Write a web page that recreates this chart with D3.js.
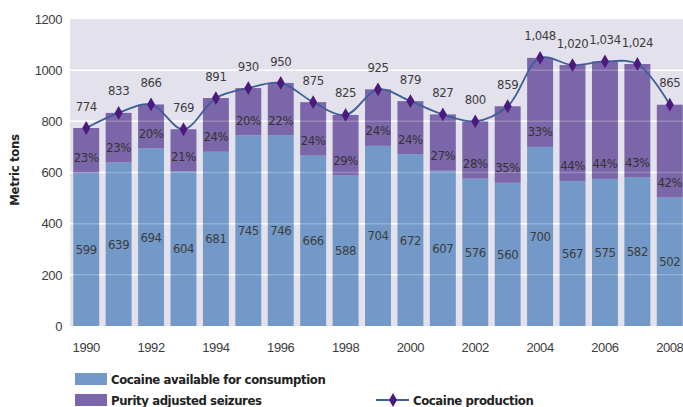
<!DOCTYPE html>
<html><head><meta charset="utf-8">
<script src="https://cdn.jsdelivr.net/npm/d3@7"></script>
<style>
html,body{margin:0;padding:0;background:#fff;}
svg{display:block;font-family:"DejaVu Sans Condensed","Liberation Sans Narrow","Open Sans",sans-serif;}
</style></head>
<body><svg id="c" width="683" height="407"></svg>
<script>
const years = [1990,1991,1992,1993,1994,1995,1996,1997,1998,1999,2000,2001,2002,2003,2004,2005,2006,2007,2008];
const consumption = [599,639,694,604,681,745,746,666,588,704,672,607,576,560,700,567,575,582,502];
const production = [774,833,866,769,891,930,950,875,825,925,879,827,800,859,1048,1020,1034,1024,865];
const seizurePct = [23,23,20,21,24,20,22,24,29,24,24,27,28,35,33,44,44,43,42];
const yTicks = [0,200,400,600,800,1000,1200];
const xTickYears = [1990,1992,1994,1996,1998,2000,2002,2004,2006,2008];
const seriesNames = ["Cocaine available for consumption","Purity adjusted seizures","Cocaine production"];

const C = {blue:"#7399c8", purple:"#7a66a8", bg:"#e3e1ec", line:"#3e5e9a", marker:"#4a1a7c", text:"#3c3c3c"};
const svg = d3.select("#c");
const L = 70, R = 683, T = 19, B = 326;
const FS = 13, LS = "-0.4px";

const x = d3.scaleBand().domain(years).range([L, 686]).paddingInner(0.2).paddingOuter(0.1);
const y = d3.scaleLinear().domain([0,1200]).range([B, T]);

svg.append("rect").attr("x",L).attr("y",T).attr("width",R-L).attr("height",B-T).attr("fill",C.bg);

svg.append("g").selectAll("line").data(yTicks.filter(d=>d>0 && d<1200)).join("line")
  .attr("x1",L).attr("x2",R).attr("y1",d=>y(d)).attr("y2",d=>y(d))
  .attr("stroke","#fff").attr("stroke-width",1.5);

const rows = years.map((yr,i)=>({yr, c:consumption[i], p:production[i], pct:seizurePct[i]}));

const bars = svg.append("g");
bars.selectAll("rect.b").data(rows).join("rect").attr("class","b")
  .attr("x",d=>x(d.yr)).attr("width",x.bandwidth())
  .attr("y",d=>y(d.c)).attr("height",d=>y(0)-y(d.c)).attr("fill",C.blue);
bars.selectAll("rect.p").data(rows).join("rect").attr("class","p")
  .attr("x",d=>x(d.yr)).attr("width",x.bandwidth())
  .attr("y",d=>y(d.p)).attr("height",d=>y(d.c)-y(d.p)).attr("fill",C.purple);

svg.append("g").selectAll("line").data(yTicks.filter(d=>d>0 && d<1200)).join("line")
  .attr("x1",L).attr("x2",R).attr("y1",d=>y(d)).attr("y2",d=>y(d))
  .attr("stroke","#fff").attr("stroke-opacity",0.22).attr("stroke-width",1.5);

const cx = d=>x(d.yr)+x.bandwidth()/2;

svg.append("g").selectAll("text").data(rows).join("text")
  .attr("x",cx).attr("y",d=>y(d.c/2)).attr("dy","0.35em").attr("text-anchor","middle")
  .attr("font-size",FS).attr("letter-spacing",LS).attr("fill",C.text).text(d=>d.c);
svg.append("g").selectAll("text").data(rows).join("text")
  .attr("x",cx).attr("y",d=>y(d.c)-15).attr("dy","0.35em").attr("text-anchor","middle")
  .attr("font-size",FS).attr("letter-spacing",LS).attr("fill","#333").text(d=>d.pct+"%");

const line = d3.line().x(cx).y(d=>y(d.p)).curve(d3.curveCatmullRom.alpha(0.5));
svg.append("path").datum(rows).attr("d",line).attr("fill","none").attr("stroke",C.line).attr("stroke-width",1.8);
const diamond = d3.symbol().type(d3.symbolDiamond).size(55);
svg.append("g").selectAll("path").data(rows).join("path")
  .attr("transform",d=>`translate(${cx(d)},${y(d.p)})`).attr("d",diamond).attr("fill",C.marker);
svg.append("g").selectAll("text").data(rows).join("text")
  .attr("x",cx).attr("y",d=>y(d.p)-22).attr("dy","0.35em").attr("text-anchor","middle")
  .attr("font-size",FS).attr("letter-spacing",LS).attr("fill",C.text).text(d=>d3.format(",")(d.p));

const ya = svg.append("g").attr("transform",`translate(${L-8},0)`)
  .call(d3.axisLeft(y).tickValues(yTicks).tickSize(0).tickPadding(0).tickFormat(d3.format("d")));
ya.select(".domain").remove();
ya.selectAll("text").attr("font-size",FS).attr("letter-spacing",LS).attr("fill",C.text).attr("font-family",null);

svg.append("text").attr("transform","translate(19,170) rotate(-90)").attr("text-anchor","middle")
  .attr("font-size",13).attr("font-weight","bold").attr("letter-spacing","-0.3px").attr("fill","#222").text("Metric tons");

const xa = svg.append("g").attr("transform",`translate(0,${B+17})`)
  .call(d3.axisBottom(x).tickValues(xTickYears).tickSize(0).tickPadding(0));
xa.select(".domain").remove();
xa.selectAll("text").attr("font-size",FS).attr("letter-spacing",LS).attr("fill",C.text).attr("font-family",null).attr("dy","0.71em");

const lg = svg.append("g");
lg.append("rect").attr("x",75).attr("y",373).attr("width",32).attr("height",12).attr("fill",C.blue);
lg.append("rect").attr("x",75).attr("y",394).attr("width",32).attr("height",12).attr("fill",C.purple);
const lt = (xx,yy,t)=>lg.append("text").attr("x",xx).attr("y",yy).attr("dy","0.35em").attr("font-size",13)
  .attr("font-weight","bold").attr("letter-spacing","-0.4px").attr("fill","#222").text(t);
lt(111,379,seriesNames[0]);
lt(111,400,seriesNames[1]);
lg.append("line").attr("x1",376).attr("x2",409).attr("y1",400).attr("y2",400).attr("stroke",C.line).attr("stroke-width",1.8);
lg.append("path").attr("transform","translate(393,400)").attr("d",diamond).attr("fill",C.marker);
lt(413,400,seriesNames[2]);
</script></body></html>
